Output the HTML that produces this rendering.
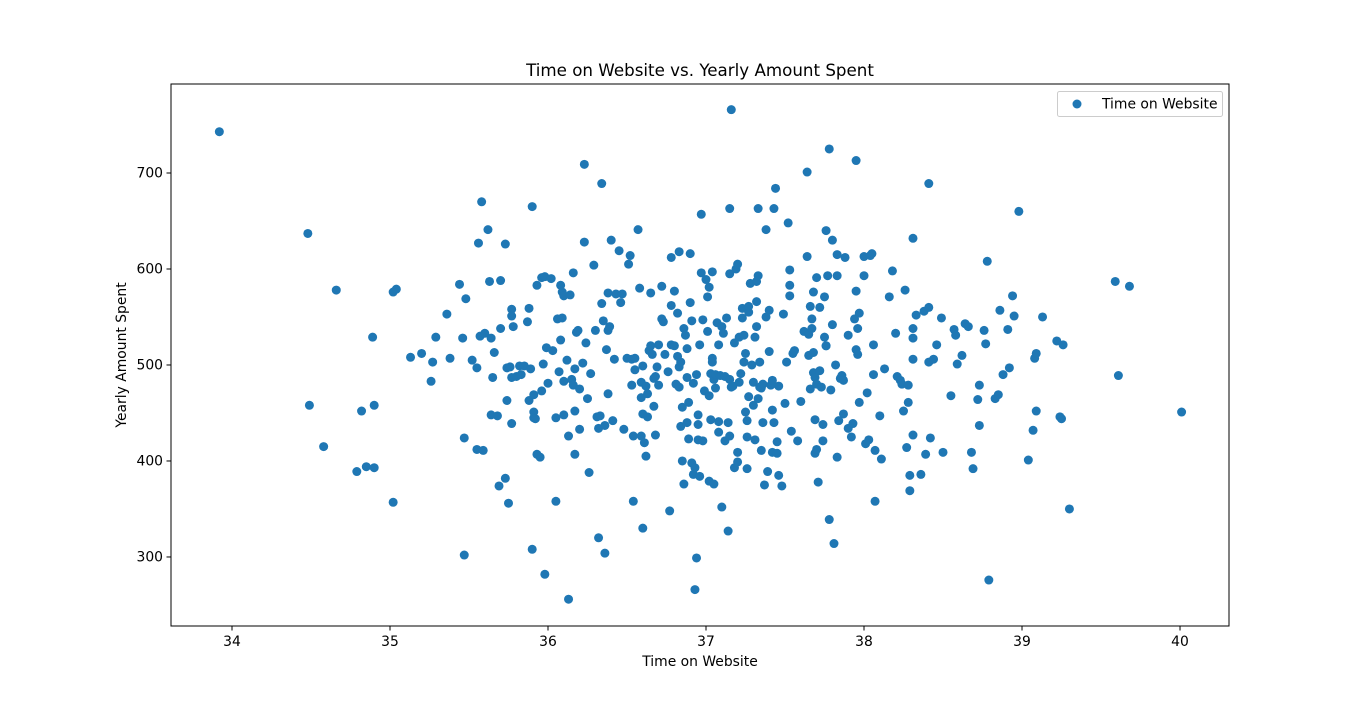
<!DOCTYPE html>
<html><head><meta charset="utf-8"><style>
body{margin:0;background:#fff;}
svg{display:block;font-family:"DejaVu Sans","Liberation Sans",sans-serif;}
</style></head><body>
<svg id="chart" width="1366" height="703">
<text x="700" y="76" font-size="16.7" text-anchor="middle">Time on Website vs. Yearly Amount Spent</text>
<text x="700" y="666" font-size="13.9" text-anchor="middle">Time on Website</text>
<text x="126" y="355" font-size="13.9" text-anchor="middle" transform="rotate(-90 126 355)">Yearly Amount Spent</text>
<g id="xticks"></g>
<g id="yticks"></g>
<g id="points"></g>
<rect x="171" y="84" width="1058" height="542" fill="none" stroke="#000" stroke-width="1"/>
<g>
<rect x="1057.5" y="91.5" width="165" height="25" fill="#fff" stroke="#ccc" rx="2"/>
<circle cx="1077" cy="104" r="4.5" fill="#1f77b4"/>
<text x="1102" y="108.5" font-size="13.9">Time on Website</text>
</g>
</svg>
<script>
const xTicks=[34,35,36,37,38,39,40];
const yTicks=[300,400,500,600,700];
const timeOnWebsite=[33.92,34.48,34.49,34.58,34.66,34.79,34.82,34.85,34.89,34.9,34.9,35.02,35.02,35.04,35.13,35.2,35.26,35.27,35.29,35.36,35.38,35.44,35.46,35.47,35.47,35.48,35.52,35.55,35.55,35.56,35.58,35.57,35.59,35.6,35.62,35.63,35.64,35.64,35.65,35.66,35.68,35.69,35.7,35.7,35.73,35.73,35.74,35.74,35.75,35.76,35.77,35.77,35.77,35.77,35.78,35.8,35.82,35.83,35.85,35.87,35.88,35.88,35.89,35.9,35.9,35.91,35.91,35.91,35.93,35.92,35.93,35.95,35.96,35.96,35.97,35.98,35.98,35.99,36.0,36.02,36.03,36.05,36.05,36.06,36.07,36.08,36.08,36.09,36.09,36.1,36.1,36.1,36.12,36.13,36.13,36.14,36.15,36.16,36.16,36.17,36.17,36.17,36.18,36.19,36.2,36.2,36.22,36.23,36.23,36.24,36.25,36.26,36.27,36.29,36.3,36.31,36.32,36.32,36.33,36.34,36.34,36.35,36.36,36.36,36.37,36.38,36.38,36.38,36.39,36.4,36.41,36.42,36.43,36.45,36.46,36.47,36.48,36.5,36.51,36.52,36.53,36.53,36.54,36.54,36.55,36.55,36.57,36.58,36.59,36.59,36.59,36.6,36.6,36.6,36.61,36.62,36.62,36.63,36.63,36.64,36.65,36.65,36.66,36.67,36.67,36.68,36.68,36.69,36.7,36.7,36.72,36.72,36.73,36.74,36.76,36.77,36.78,36.78,36.78,36.8,36.8,36.81,36.82,36.82,36.83,36.83,36.83,36.84,36.84,36.85,36.85,36.86,36.86,36.87,36.88,36.88,36.88,36.89,36.89,36.9,36.9,36.91,36.91,36.92,36.92,36.93,36.93,36.94,36.94,36.95,36.95,36.95,36.96,36.96,36.97,36.97,36.98,36.98,36.99,37.0,37.01,37.01,37.02,37.02,37.02,37.03,37.03,37.04,37.04,37.04,37.05,37.05,37.06,37.06,37.07,37.08,37.08,37.08,37.09,37.1,37.1,37.11,37.12,37.12,37.13,37.14,37.14,37.15,37.15,37.15,37.15,37.16,37.16,37.17,37.18,37.18,37.19,37.2,37.2,37.2,37.21,37.21,37.22,37.23,37.23,37.24,37.24,37.25,37.25,37.26,37.26,37.26,37.27,37.27,37.27,37.28,37.29,37.3,37.3,37.31,37.31,37.32,37.32,37.32,37.33,37.33,37.33,37.34,37.34,37.35,37.35,37.36,37.36,37.37,37.38,37.38,37.39,37.4,37.4,37.41,37.42,37.42,37.42,37.43,37.43,37.44,37.45,37.45,37.46,37.46,37.48,37.49,37.5,37.51,37.52,37.53,37.53,37.53,37.54,37.55,37.56,37.58,37.6,37.62,37.64,37.64,37.65,37.65,37.66,37.66,37.67,37.67,37.68,37.68,37.68,37.69,37.69,37.69,37.7,37.7,37.7,37.71,37.72,37.72,37.73,37.74,37.74,37.75,37.75,37.76,37.76,37.76,37.77,37.78,37.78,37.79,37.8,37.8,37.81,37.82,37.83,37.83,37.83,37.84,37.85,37.86,37.87,37.87,37.88,37.9,37.9,37.92,37.93,37.94,37.95,37.95,37.95,37.96,37.96,37.97,37.97,38.0,38.0,38.01,38.02,38.03,38.04,38.05,38.06,38.06,38.07,38.07,38.1,38.11,38.13,38.16,38.18,38.2,38.21,38.23,38.24,38.25,38.26,38.27,38.28,38.28,38.29,38.29,38.31,38.31,38.31,38.31,38.31,38.33,38.36,38.38,38.39,38.41,38.41,38.41,38.42,38.44,38.46,38.49,38.5,38.55,38.57,38.58,38.59,38.62,38.64,38.66,38.68,38.69,38.72,38.73,38.73,38.76,38.77,38.78,38.79,38.83,38.85,38.86,38.88,38.91,38.92,38.94,38.95,38.98,39.04,39.07,39.08,39.09,39.09,39.13,39.22,39.24,39.25,39.26,39.3,39.59,39.61,39.68,40.01];
const yearlySpent=[743,637,458,415,578,389,452,394,529,458,393,576,357,579,508,512,483,503,529,553,507,584,528,424,302,569,505,497,412,627,670,530,411,533,641,587,528,448,487,513,447,374,538,588,382,626,463,497,356,498,558,551,487,439,540,488,499,490,499,545,463,559,496,665,308,469,451,445,583,444,407,404,591,473,501,282,592,518,481,590,515,445,358,548,493,526,583,549,576,572,483,448,505,426,256,573,485,479,596,496,452,407,534,536,475,433,502,709,628,523,465,388,491,604,536,446,434,320,447,564,689,546,304,437,516,575,536,470,540,630,442,506,574,619,565,574,433,507,605,614,506,479,426,358,495,507,641,580,466,426,482,330,499,449,419,405,478,446,470,515,575,520,511,486,457,427,488,498,479,521,582,548,545,511,493,348,562,521,612,577,520,480,554,509,477,498,618,503,436,456,400,538,376,531,517,487,440,461,423,616,565,546,398,481,386,266,393,299,490,422,448,438,384,521,596,657,547,421,473,589,571,535,581,468,379,443,491,597,507,503,376,485,490,476,544,521,441,430,489,352,540,533,488,421,549,327,440,663,485,426,595,766,477,478,393,523,600,605,399,409,529,482,491,559,549,531,503,451,512,392,442,425,555,561,467,585,500,482,458,529,422,587,540,566,663,593,465,477,503,476,411,480,440,375,550,641,389,557,514,479,453,484,409,663,440,684,420,408,478,385,374,553,460,503,648,599,583,572,431,512,515,421,462,535,701,613,532,510,475,561,548,538,576,513,492,487,443,408,591,480,412,378,560,494,477,438,421,571,529,640,520,520,593,725,339,474,630,542,314,500,615,593,404,442,486,489,484,449,612,434,531,425,439,548,713,577,516,511,538,554,461,593,613,418,471,422,614,616,521,490,411,358,447,402,496,571,598,533,488,484,480,452,578,414,479,461,369,385,632,538,528,506,427,552,386,556,407,689,503,560,424,506,521,549,409,468,537,531,501,510,543,540,409,392,464,437,479,536,522,608,276,465,469,557,490,537,497,572,551,660,401,432,507,512,452,550,525,446,444,521,350,587,489,582,451];
const NS='http://www.w3.org/2000/svg';
const X0=171,X1=1229,Y0=84,Y1=626;
const xMin=33.614,xMax=40.31,yMin=228.1,yMax=792.7;
function sx(v){return X0+(v-xMin)/(xMax-xMin)*(X1-X0);}
function sy(v){return Y1-(v-yMin)/(yMax-yMin)*(Y1-Y0);}
function mk(tag,attrs,parent){const e=document.createElementNS(NS,tag);for(const k in attrs)e.setAttribute(k,attrs[k]);parent.appendChild(e);return e;}
const gx=document.getElementById('xticks'),gy=document.getElementById('yticks'),gp=document.getElementById('points');
xTicks.forEach(t=>{
  const x=sx(t);
  const l=mk('line',{x1:x,x2:x,y1:Y1,y2:Y1+4.5,stroke:'#000'},gx);
  
  
  const tx=mk('text',{x:x,y:Y1+20,'font-size':13.9,'text-anchor':'middle'},gx);
  tx.textContent=t;
  
  
});
yTicks.forEach(t=>{
  const y=sy(t);
  const l=mk('line',{x1:X0-4.5,x2:X0,y1:y,y2:y,stroke:'#000'},gy);
  
  
  const tx=mk('text',{x:X0-8,y:y+4.5,'font-size':13.9,'text-anchor':'end'},gy);
  tx.textContent=t;
  
  
});
timeOnWebsite.forEach((v,i)=>{
  const c=mk('circle',{cx:sx(v),cy:sy(yearlySpent[i]),r:4.5,fill:'#1f77b4'},gp);
  
  
});
</script>
</body></html>
